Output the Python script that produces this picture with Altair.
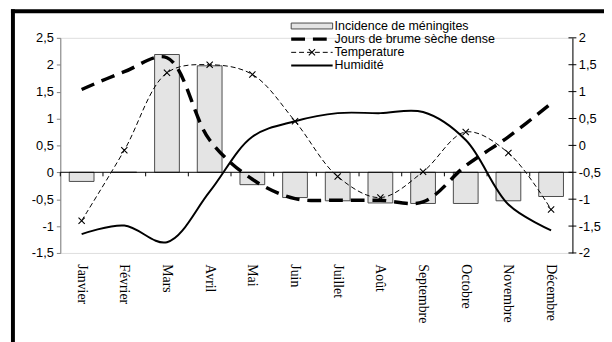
import altair as alt
import pandas as pd

# ---- data ----
months = ["Janvier", "Février", "Mars", "Avril", "Mai", "Juin", "Juillet",
          "Août", "Septembre", "Octobre", "Novembre", "Décembre"]
# left axis
incidence = [-0.17, 0.0, 2.19, 1.98, -0.23, -0.47, -0.53, -0.57, -0.58, -0.58, -0.53, -0.45]
# right axis
brume = [1.04, 1.37, 1.63, 0.10, -0.63, -0.99, -1.02, -1.02, -1.05, -0.38, 0.16, 0.78]
temperature = [-1.40, -0.09, 1.35, 1.50, 1.32, 0.45, -0.58, -0.97, -0.49, 0.25, -0.14, -1.19]
humidite = [-1.65, -1.49, -1.80, -0.86, 0.16, 0.45, 0.60, 0.60, 0.62, 0.10, -1.10, -1.58]

left_ticks = [-1.5, -1, -0.5, 0, 0.5, 1, 1.5, 2, 2.5]
right_ticks = [-2, -1.5, -1, -0.5, 0, 0.5, 1, 1.5, 2]
legend_labels = ["Incidence de méningites", "Jours de brume sèche dense",
                 "Temperature", "Humidité"]

df = pd.DataFrame({"mois": months, "incidence": incidence, "brume": brume,
                   "temp": temperature, "hum": humidite})
one = alt.Data(values=[{"k": 0}])

W, H = 519, 218
SANS = "Liberation Sans"
SERIF = "Liberation Serif"
label_expr = "replace(toString(datum.value), '.', ',')"

xscale = alt.Scale(domain=months, paddingInner=0, paddingOuter=0)
x_axis = alt.Axis(title=None, labelAngle=90, labelFont=SERIF, labelFontSize=14,
                  labelColor="black", labelPadding=11, domain=False, ticks=False,
                  grid=False, labelOverlap=False)
x_enc = alt.X("mois:N", sort=months, scale=xscale, axis=x_axis)

lscale = alt.Scale(domain=[-1.5, 2.5], nice=False, zero=False)
l_axis = alt.Axis(title=None, values=left_ticks, labelExpr=label_expr, grid=False,
                  domainColor="#808080", tickColor="#808080", tickSize=4,
                  labelFont=SANS, labelFontSize=13, labelColor="black", labelPadding=3,
                  labelOverlap=False)
rscale = alt.Scale(domain=[-2, 2], nice=False, zero=False)
r_axis = alt.Axis(title=None, orient="right", values=right_ticks, labelExpr=label_expr,
                  grid=False, domainColor="black", ticks=False, labelOverlap=False,
                  labelFont=SANS, labelFontSize=13, labelColor="black", labelPadding=6)

# ---- left group: bars, zero line, category ticks, frame, legend ----
bars = alt.Chart(df).mark_bar(width={"band": 0.58}, fill="#e4e4e4",
                              stroke="#4a4a4a", strokeWidth=1).encode(
    x=x_enc, y=alt.Y("incidence:Q", scale=lscale, axis=l_axis), y2=alt.datum(0))

zero_line = alt.Chart(one).mark_rule(color="black", strokeWidth=1).encode(
    y=alt.YDatum(0, scale=lscale, axis=l_axis), x=alt.value(0), x2=alt.value(W))

cat_ticks = alt.Chart(df).mark_rule(color="black", strokeWidth=1).encode(
    x=alt.X("mois:N", sort=months, scale=xscale, axis=x_axis, bandPosition=0),
    y=alt.YDatum(0, scale=lscale, axis=l_axis), y2=alt.datum(-0.075))

frame_l = alt.Chart(one).mark_rule(color="black", strokeWidth=4).encode(
    x=alt.value(-48), y=alt.value(-29), y2=alt.value(310))
frame_t = alt.Chart(one).mark_rule(color="black", strokeWidth=4).encode(
    y=alt.value(-27), x=alt.value(-50), x2=alt.value(555))

LX0, LX1, LXT = 234, 276, 278
LY = [-12, 1.3, 14.7, 28]
leg_rect = alt.Chart(one).mark_rect(fill="#e4e4e4", stroke="#4a4a4a", strokeWidth=1).encode(
    x=alt.value(LX0), x2=alt.value(LX1), y=alt.value(LY[0] - 3), y2=alt.value(LY[0] + 3))
leg_brume = alt.Chart(one).mark_rule(color="black", strokeWidth=3.5, strokeDash=[14, 8]).encode(
    x=alt.value(LX0), x2=alt.value(LX1), y=alt.value(LY[1]))
leg_temp = alt.Chart(one).mark_rule(color="black", strokeWidth=1, strokeDash=[5, 3]).encode(
    x=alt.value(LX0), x2=alt.value(LX1), y=alt.value(LY[2]))
leg_temp_pt = alt.Chart(one).mark_point(shape="M-1,-1L1,1M-1,1L1,-1", size=40, filled=False,
                                        color="black", strokeWidth=1.1, opacity=1).encode(
    x=alt.value((LX0 + LX1) / 2), y=alt.value(LY[2]))
leg_hum = alt.Chart(one).mark_rule(color="black", strokeWidth=2).encode(
    x=alt.value(LX0), x2=alt.value(LX1), y=alt.value(LY[3]))
leg_texts = [
    alt.Chart(one).mark_text(text=lab, font=SANS, fontSize=12.6, align="left",
                             baseline="middle", color="black").encode(
        x=alt.value(LXT), y=alt.value(yy))
    for lab, yy in zip(legend_labels, LY)
]

left_group = alt.layer(bars, zero_line, cat_ticks, frame_l, frame_t,
                       leg_rect, leg_brume, leg_temp, leg_temp_pt, leg_hum, *leg_texts)

# ---- right group: lines ----
hum_line = alt.Chart(df).mark_line(color="black", strokeWidth=2, interpolate="catmull-rom").encode(
    x=x_enc, y=alt.Y("hum:Q", scale=rscale, axis=r_axis))
temp_line = alt.Chart(df).mark_line(color="black", strokeWidth=1, strokeDash=[5, 3],
                                    interpolate="catmull-rom").encode(
    x=x_enc, y=alt.Y("temp:Q", scale=rscale, axis=r_axis))
temp_pts = alt.Chart(df).mark_point(shape="M-1,-1L1,1M-1,1L1,-1", size=40, filled=False,
                                    color="black", strokeWidth=1.1, opacity=1).encode(
    x=x_enc, y=alt.Y("temp:Q", scale=rscale, axis=r_axis))
brume_line = alt.Chart(df).mark_line(color="black", strokeWidth=3.5, strokeDash=[14, 8],
                                     interpolate="catmull-rom").encode(
    x=x_enc, y=alt.Y("brume:Q", scale=rscale, axis=r_axis))
r_tick_df = pd.DataFrame({"t": right_ticks})
r_ticks = alt.Chart(r_tick_df).mark_rule(color="black", strokeWidth=1).encode(
    y=alt.Y("t:Q", scale=rscale, axis=r_axis), x=alt.value(W - 4), x2=alt.value(W + 4))

right_group = alt.layer(hum_line, temp_line, temp_pts, brume_line, r_ticks)

chart = alt.layer(left_group, right_group).resolve_scale(y="independent").properties(
    width=W, height=H, autosize="none",
    padding={"left": 53, "top": 28, "right": 32, "bottom": 88},
).configure_view(stroke=None).configure_axis(labelOverlap=False).configure(background="white")

chart.save("out.html", embed_options={"renderer": "svg", "actions": False})
